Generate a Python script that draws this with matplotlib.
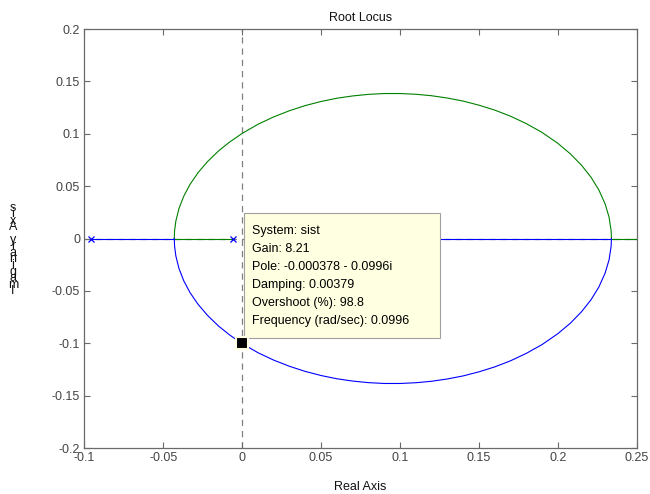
import matplotlib
matplotlib.use("Agg")
import matplotlib.pyplot as plt
from matplotlib.patches import Rectangle

plt.rcParams['font.family'] = ['Liberation Sans', 'DejaVu Sans']

# Root locus branches (real part, imaginary part)
upper_re = [-0.043, -0.0428, -0.042, -0.040, -0.037, -0.033, -0.028, -0.022, -0.015, -0.008,
            0.000, 0.010, 0.020, 0.030, 0.040, 0.050, 0.060, 0.070, 0.080, 0.090,
            0.100, 0.110, 0.120, 0.130, 0.140, 0.150, 0.160, 0.170, 0.180, 0.190,
            0.200, 0.208, 0.215, 0.221, 0.226, 0.230, 0.2325, 0.2338, 0.234]
upper_im = [0.000, 0.0074, 0.0166, 0.0287, 0.0403, 0.0517, 0.0627, 0.0733, 0.0835, 0.0920,
            0.1003, 0.1090, 0.1161, 0.1220, 0.1269, 0.1308, 0.1339, 0.1361, 0.1376, 0.1384,
            0.1384, 0.1377, 0.1363, 0.1341, 0.1312, 0.1273, 0.1226, 0.1168, 0.1097, 0.1013,
            0.0909, 0.0808, 0.0700, 0.0586, 0.0464, 0.0330, 0.0203, 0.0074, 0.000]
lower_re = upper_re
lower_im = [-v for v in upper_im]

# Real-axis segments
blue_left_re = [-0.096, -0.043]
green_left_re = [-0.006, -0.043]
blue_right_re = [0.234, 0.100]
green_right_re = [0.234, 0.26]

poles_re = [-0.096, -0.006]
poles_im = [0.0, 0.0]

# Selected point on the locus
tip_re, tip_im = -0.000378, -0.0996
tip_lines = ["System: sist", "Gain: 8.21", "Pole: -0.000378 - 0.0996i",
             "Damping: 0.00379", "Overshoot (%): 98.8", "Frequency (rad/sec): 0.0996"]

xticks = [-0.1, -0.05, 0, 0.05, 0.1, 0.15, 0.2, 0.25]
xticklabels = ["-0.1", "-0.05", "0", "0.05", "0.1", "0.15", "0.2", "0.25"]
yticks = [-0.2, -0.15, -0.1, -0.05, 0, 0.05, 0.1, 0.15, 0.2]
yticklabels = ["-0.2", "-0.15", "-0.1", "-0.05", "0", "0.05", "0.1", "0.15", "0.2"]

W, H = 650, 494
fig = plt.figure(figsize=(W / 100, H / 100), dpi=100)
ax = fig.add_axes([84.3 / W, 1 - 448 / H, (636.7 - 84.3) / W, (448 - 29) / H])
ax.set_xlim(-0.1, 0.25)
ax.set_ylim(-0.2, 0.2)

gray = '#6a6a6a'
blue = '#0000ff'
green = '#008000'

ax.axvline(0, color='#808080', lw=0.9, ls=(0, (5, 4)), zorder=1)
ax.axhline(0, color='#808080', lw=0.9, ls=(0, (5, 4)), zorder=1)

ax.plot(blue_left_re, [0, 0], color=blue, lw=0.8, zorder=2)
ax.plot(green_left_re, [0, 0], color=green, lw=0.8, zorder=2)
ax.plot(blue_right_re, [0, 0], color=blue, lw=0.8, zorder=2)
ax.plot(green_right_re, [0, 0], color=green, lw=0.8, zorder=2)
ax.plot(upper_re, upper_im, color=green, lw=0.8, zorder=2)
ax.plot(lower_re, lower_im, color=blue, lw=0.8, zorder=2)
ax.plot(poles_re, poles_im, 'x', color=blue, ms=5, mew=0.9, zorder=3)

# Data tip box, sized in pixels next to the selected point
fig.canvas.draw()
box_x0, box_y0 = 244, 213
box_x1, box_y1 = 440, 338
inv = ax.transData.inverted()
bx0, by1 = inv.transform((box_x0, H - box_y0))
bx1, by0 = inv.transform((box_x1, H - box_y1))
box = Rectangle((bx0, by0), bx1 - bx0, by1 - by0, facecolor='#ffffe1',
                edgecolor='#a0a0a0', lw=0.8, zorder=5)
ax.add_patch(box)
for i, line in enumerate(tip_lines):
    tx, ty = inv.transform((box_x0 + 8, H - (231 + i * 18)))
    ax.text(tx, ty, line, fontsize=9, va='center', ha='left', color='black', zorder=6)
ax.plot([tip_re], [tip_im], 's', color='black', ms=8, mec='#ffffe1', mew=1.5, zorder=7)

ax.set_xticks(xticks)
ax.set_xticklabels(xticklabels)
ax.set_yticks(yticks)
ax.set_yticklabels(yticklabels)
ax.tick_params(direction='in', length=4, width=0.8, color=gray, labelcolor='#444444',
               labelsize=9, top=True, right=True, pad=3)
for s in ax.spines.values():
    s.set_color(gray)
    s.set_linewidth(0.9)

ax.set_title("Root Locus", fontsize=9, color='#111111', pad=6)
ax.set_xlabel("Real Axis", fontsize=9, color='#111111', labelpad=12)

# Vertical axis caption, characters stacked bottom to top
label = "Imaginary Axis"
for i, ch in enumerate(label):
    fig.text(13 / W, 1 - (291 - i * 6.4) / H, ch, fontsize=9, ha='center', va='center',
             color='#111111')

fig.savefig("out.png", dpi=100)
